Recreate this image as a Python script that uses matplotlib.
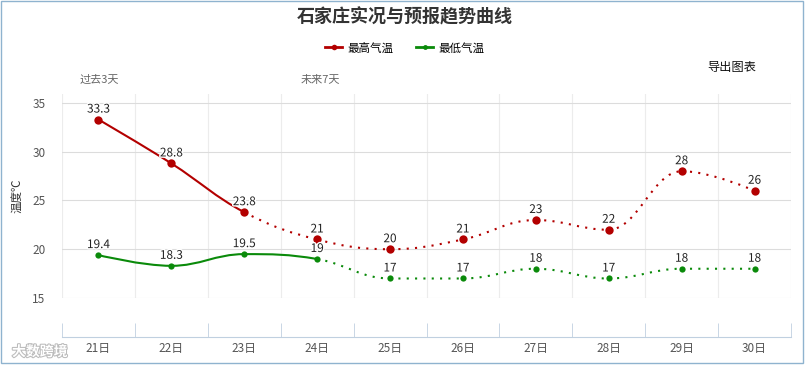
import numpy as np
import matplotlib.pyplot as plt
from matplotlib.path import Path
from matplotlib.patches import PathPatch, Rectangle
from matplotlib.lines import Line2D
import matplotlib.patheffects as pe

plt.rcParams['font.family'] = ['Noto Sans CJK SC', 'DejaVu Sans']

days = ['21日', '22日', '23日', '24日', '25日', '26日', '27日', '28日', '29日', '30日']
high = [33.3, 28.8, 23.8, 21, 20, 21, 23, 22, 28, 26]
low = [19.4, 18.3, 19.5, 19, 17, 17, 18, 17, 18, 18]
high_labels = ['33.3', '28.8', '23.8', '21', '20', '21', '23', '22', '28', '26']
low_labels = ['19.4', '18.3', '19.5', '19', '17', '17', '18', '17', '18', '18']
high_solid_end = 2   # measured up to 23日
low_solid_end = 3    # measured up to 24日

red = '#b30000'
green = '#0a8a0a'


def spline_pieces(xs, ys):
    # highcharts style spline control points
    sm = 1.5
    n = len(xs)
    lc = [(xs[i], ys[i]) for i in range(n)]
    rc = [(xs[i], ys[i]) for i in range(n)]
    for i in range(1, n - 1):
        px, py = xs[i], ys[i]
        lx, ly = xs[i - 1], ys[i - 1]
        nx, ny = xs[i + 1], ys[i + 1]
        lcx = (sm * px + lx) / (sm + 1)
        lcy = (sm * py + ly) / (sm + 1)
        rcx = (sm * px + nx) / (sm + 1)
        rcy = (sm * py + ny) / (sm + 1)
        corr = (rcy - lcy) * (rcx - px) / (rcx - lcx) + py - rcy
        lcy += corr
        rcy += corr
        if lcy > ly and lcy > py:
            lcy = max(ly, py)
            rcy = 2 * py - lcy
        elif lcy < ly and lcy < py:
            lcy = min(ly, py)
            rcy = 2 * py - lcy
        if rcy > ny and rcy > py:
            rcy = max(ny, py)
            lcy = 2 * py - rcy
        elif rcy < ny and rcy < py:
            rcy = min(ny, py)
            lcy = 2 * py - rcy
        lc[i] = (lcx, lcy)
        rc[i] = (rcx, rcy)
    pieces = []
    for i in range(n - 1):
        pieces.append([(xs[i], ys[i]), rc[i], lc[i + 1], (xs[i + 1], ys[i + 1])])
    return pieces


def draw_series(ax, vals, labels, split, color, ms):
    xs = list(range(len(vals)))
    pieces = spline_pieces(xs, vals)
    for rng, style in [(range(0, split), '-'), (range(split, len(pieces)), (0, (1, 3)))]:
        verts, codes = [], []
        for k in rng:
            p = pieces[k]
            verts += p
            codes += [Path.MOVETO, Path.CURVE4, Path.CURVE4, Path.CURVE4]
        if verts:
            ax.add_patch(PathPatch(Path(verts, codes), fill=False, edgecolor=color,
                                   lw=1.5, linestyle=style, zorder=3))
    ax.plot(xs, vals, 'o', color=color, ms=ms, mew=0, zorder=4, lw=0)
    for x, v, t in zip(xs, vals, labels):
        ax.annotate(t, (x, v), xytext=(0, 4), textcoords='offset pixels', ha='center',
                    va='bottom', fontsize=8.5, color='#222222', zorder=5,
                    path_effects=[pe.withStroke(linewidth=2, foreground='white')])


fig = plt.figure(figsize=(8.09, 3.67), dpi=100)
ax = fig.add_axes([62 / 809, 69 / 367, 729 / 809, 204 / 367])

draw_series(ax, high, high_labels, high_solid_end, red, 6)
draw_series(ax, low, low_labels, low_solid_end, green, 4.5)

ax.set_xlim(-0.5, len(days) - 0.5)
ax.set_ylim(15, 35.92)
ax.set_yticks([15, 20, 25, 30, 35])
ax.set_xticks(range(len(days)))
ax.set_xticklabels(days)
ax.set_xticks(np.arange(-0.5, len(days), 1), minor=True)

ax.grid(axis='y', which='major', color='#dcdcdc', lw=0.8)
ax.grid(axis='x', which='minor', color='#ececec', lw=0.8)
ax.set_axisbelow(True)

for s in ['top', 'right', 'left']:
    ax.spines[s].set_visible(False)
ax.spines['bottom'].set_position(('outward', 28))
ax.spines['bottom'].set_color('#c0d0e0')
ax.tick_params(axis='x', which='major', length=0, labelsize=8.5, labelcolor='#555555', pad=4)
ax.tick_params(axis='x', which='minor', direction='in', length=10, color='#c0d0e0')
ax.tick_params(axis='y', length=0, labelsize=8.5, labelcolor='#555555', pad=12)
ax.set_ylabel('温度℃', fontsize=8.3, color='#333333', labelpad=6)

fig.text(0.5, 1 - 17 / 367, '石家庄实况与预报趋势曲线', ha='center', va='center',
         fontsize=13, fontweight='bold', color='#333333')

handles = [Line2D([], [], color=red, lw=2, marker='o', ms=4, mew=0),
           Line2D([], [], color=green, lw=2, marker='o', ms=3.5, mew=0)]
fig.legend(handles, ['最高气温', '最低气温'], loc='center', bbox_to_anchor=(0.5, 1 - 48 / 367),
           ncol=2, frameon=False, fontsize=8.3, handlelength=1.5, handletextpad=0.4,
           columnspacing=2.0)

fig.text(99 / 809, 1 - 80 / 367, '过去3天', ha='center', va='center', fontsize=8, color='#666666')
fig.text(320 / 809, 1 - 80 / 367, '未来7天', ha='center', va='center', fontsize=8, color='#666666')
fig.text(732 / 809, 1 - 67 / 367, '导出图表', ha='center', va='center', fontsize=8.8, color='#111111')

# faint watermark in the lower left corner, kept clear of the 21日 label
fig.text(12 / 809, 1 - 352 / 367, '大数跨境', ha='left', va='center', fontsize=10,
         fontweight='bold', color='white',
         path_effects=[pe.withStroke(linewidth=1.5, foreground='#bbbbbb')])

fig.patches.append(Rectangle((0.5 / 809, 4 / 367), 802 / 809, 362 / 367, transform=fig.transFigure,
                             fill=False, edgecolor='#8fb3cf', lw=1))

fig.savefig('out.png', dpi=100)
